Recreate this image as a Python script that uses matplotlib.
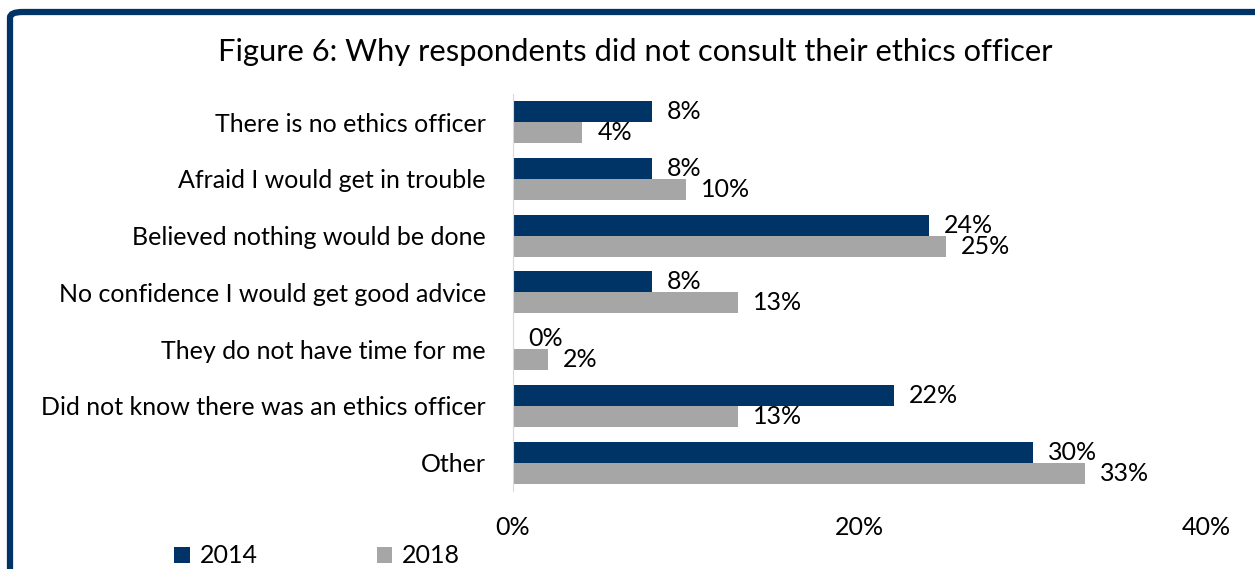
import numpy as np
import matplotlib.pyplot as plt
from matplotlib.patches import FancyBboxPatch

plt.rcParams['font.family'] = ['Lato', 'DejaVu Sans']

reasons = [
    'There is no ethics officer',
    'Afraid I would get in trouble',
    'Believed nothing would be done',
    'No confidence I would get good advice',
    'They do not have time for me',
    'Did not know there was an ethics officer',
    'Other',
]
pct_2014 = [8, 8, 24, 8, 0, 22, 30]
pct_2018 = [4, 10, 25, 13, 2, 13, 33]
x_ticks = [0, 20, 40]

navy = '#003366'
grey = '#A6A6A6'
fs = 18

fig = plt.figure(figsize=(12.55, 5.69), dpi=100)
ax = fig.add_axes([0.4088, 0.137, 0.5522, 0.698])

y = np.arange(len(reasons))
h = 0.37
b1 = ax.barh(y - h / 2, pct_2014, height=h, color=navy, label='2014')
b2 = ax.barh(y + h / 2, pct_2018, height=h, color=grey, label='2018')

# value labels just past the end of each bar
for bars, vals in ((b1, pct_2014), (b2, pct_2018)):
    for bar, v in zip(bars, vals):
        ax.annotate(f'{v}%', (bar.get_width(), bar.get_y() + bar.get_height() / 2),
                    xytext=(15, 0), textcoords='offset pixels',
                    va='center', ha='left', fontsize=fs, color='black')

ax.set_xlim(0, 40)
ax.set_ylim(len(reasons) - 0.5, -0.5)
ax.set_yticks(y)
ax.set_yticklabels(reasons, fontsize=fs)
ax.set_xticks(x_ticks)
ax.set_xticklabels([f'{t}%' for t in x_ticks], fontsize=fs)
ax.tick_params(length=0)
ax.tick_params(axis='y', pad=19.5)
ax.tick_params(axis='x', pad=18)
for side in ('top', 'right', 'bottom'):
    ax.spines[side].set_visible(False)
ax.spines['left'].set_color('#D9D9D9')

fig.text(0.506, 0.908, 'Figure 6: Why respondents did not consult their ethics officer',
         ha='center', va='center', fontsize=22.2)

fig.legend(handles=[b1, b2], loc='center left', bbox_to_anchor=(0.139, 0.023),
           ncol=2, frameon=False, fontsize=fs, handlelength=0.62, handleheight=0.62,
           handletextpad=0.4, columnspacing=4.75, borderaxespad=0, borderpad=0)

# dark outline around the whole chart
frame = FancyBboxPatch((10 / 1255, -0.05), 1.05, 1 - 12 / 569 + 0.05,
                       boxstyle='round,pad=0,rounding_size=0.01',
                       transform=fig.transFigure, fill=False,
                       edgecolor=navy, linewidth=4.5, clip_on=False)
fig.patches.append(frame)

fig.savefig('out.png', dpi=100)
